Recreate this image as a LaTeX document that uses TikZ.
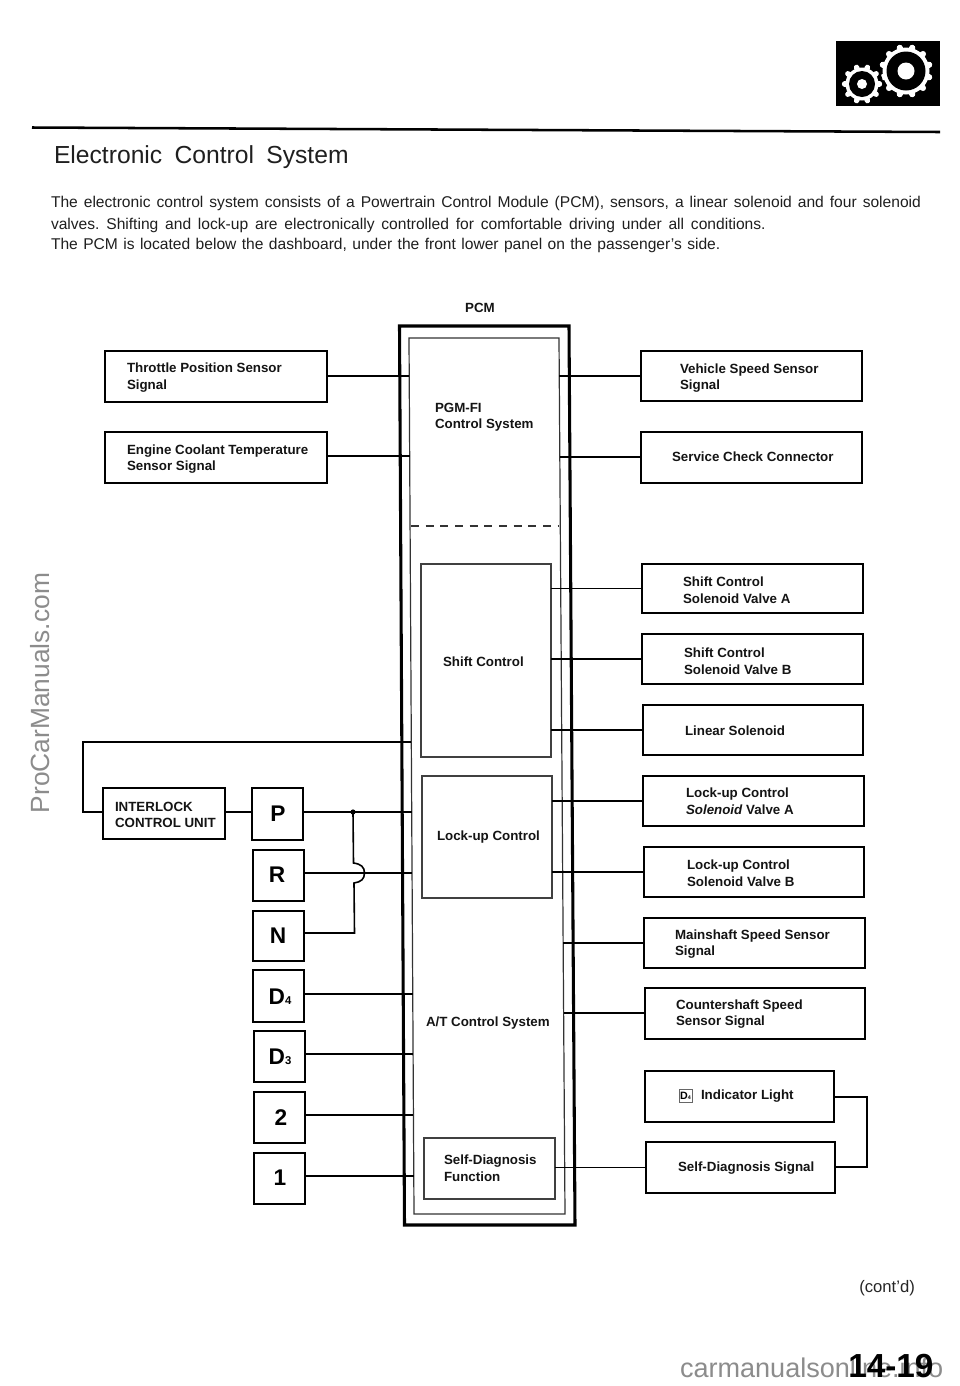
\documentclass[tikz,border=0pt]{standalone}
\usepackage{fontspec}
\setmainfont{Liberation Sans}
\newcommand{\pxbox}[6][pbox]{%
  \pgfmathsetmacro{\wpx}{(#5-#3)*0.75}\pgfmathsetmacro{\hpx}{(#6-#4)*0.75}%
  \node[#1,minimum width=\wpx pt,minimum height=\hpx pt,anchor=north west] (#2) at (#3,#4) {};}
\newcommand{\WL}[2]{\coordinate (#1) at ({409+(#2-338)*0.0057},#2);}
\newcommand{\WR}[2]{\coordinate (#1) at ({559+(#2-338)*0.0068},#2);}
\newcommand{\fitline}[2]{\makebox[#1][s]{\frenchspacing #2}}
\tikzset{
  pbox/.style={draw=black,line width=1.5pt,inner sep=0pt,outer sep=0pt,fill=white},
  subbox/.style={draw=black!75,line width=0.9pt,inner sep=0pt,outer sep=0pt},
  wire/.style={draw=black,line width=1.2pt},
  lbl/.style={inner sep=0pt,outer sep=0pt,anchor=west,align=left,font=\bfseries\fontsize{10}{12.4}\selectfont,text=black!92},
  poslbl/.style={inner sep=0pt,outer sep=0pt,font=\bfseries\fontsize{17}{18}\selectfont,text=black},
  bodytxt/.style={inner sep=0pt,outer sep=0pt,anchor=base west,font=\fontsize{11.7}{14}\selectfont,text=black!88},
  water/.style={inner sep=0pt,outer sep=0pt,text=black!45},
}
\begin{document}
\begin{tikzpicture}[x=0.75pt,y=-0.75pt]
\useasboundingbox (0,0) rectangle (960,1386);
\fill[white] (0,0) rectangle (960,1386);

% gear icon
\fill[black] (836,41) rectangle (940,106);
\begin{scope}[shift={(906,71)}]
  \foreach \a in {15,45,...,345} \draw[white,line width=4.6pt,line cap=round] (\a:20) -- (\a:24);
  \fill[white] (0,0) circle (23.5);
  \fill[black] (0,0) circle (19.5);
  \fill[white] (0,0) circle (8.5);
\end{scope}
\begin{scope}[shift={(862,84)}]
  \fill[black] (0,0) circle (21);
  \foreach \a in {0,36,...,324} \draw[white,line width=4pt,line cap=round] (\a:14) -- (\a:17.5);
  \fill[white] (0,0) circle (16.5);
  \fill[black] (0,0) circle (13);
  \fill[white] (0,0) circle (5);
\end{scope}
\draw[black,line width=1.9pt] (32,127.5) -- (940,132);

% title and text
\node[bodytxt,font=\fontsize{18.5}{22}\selectfont] (title) at (54,163) {\fitline{221pt}{Electronic Control System}};
\node[bodytxt] (p1) at (51,207) {\fitline{652.5pt}{The electronic control system consists of a Powertrain Control Module (PCM), sensors, a linear solenoid and four solenoid}};
\node[bodytxt] (p2) at (51,229) {\fitline{536pt}{valves. Shifting and lock-up are electronically controlled for comfortable driving under all conditions.}};
\node[bodytxt] (p3) at (51,249) {\fitline{502pt}{The PCM is located below the dashboard, under the front lower panel on the passenger's side.}};

% PCM
\node[lbl,anchor=center] (pcmlabel) at (480,308) {PCM};
\draw[black,line width=2.3pt] (399.5,326) -- (569,326) -- (575,1225) -- (404.5,1225) -- cycle;
\draw[black!80,line width=0.9pt] (409,338) -- (559,338) -- (565,1214) -- (414,1214) -- cycle;
\draw[black!80,line width=1pt,dash pattern=on 6pt off 5pt] (411,526) -- (558,526);
\pxbox[subbox]{shift}{421}{564}{551}{757}
\pxbox[subbox]{lockup}{422}{776}{552}{898}
\pxbox[subbox]{selfd}{424}{1138}{555}{1199}

% left boxes
\pxbox{tps}{105}{351}{327}{402}
\pxbox{ect}{105}{432}{327}{483}
\pxbox{ilock}{103}{788}{225}{839}
\pxbox{P}{252}{788}{303}{840}
\pxbox{R}{253}{850}{304}{901}
\pxbox{N}{253}{911}{304}{961}
\pxbox{Dfour}{253}{970}{304}{1022}
\pxbox{Dthree}{254}{1031}{305}{1082}
\pxbox{Two}{254}{1092}{305}{1143}
\pxbox{One}{254}{1153}{305}{1204}

% right boxes
\pxbox{vss}{641}{351}{862}{401}
\pxbox{scc}{641}{432}{862}{483}
\pxbox{sva}{642}{564}{863}{613}
\pxbox{svb}{642}{634}{863}{684}
\pxbox{lin}{643}{705}{863}{755}
\pxbox{lca}{643}{776}{864}{826}
\pxbox{lcb}{644}{847}{864}{897}
\pxbox{mss}{644}{918}{865}{968}
\pxbox{css}{645}{988}{865}{1039}
\pxbox{ind}{645}{1071}{834}{1122}
\pxbox{sds}{646}{1142}{835}{1193}

% wall coordinates
\WL{l376}{376}\WL{l456}{456}\WL{l742}{742}\WL{l812}{812}\WL{l873}{873}
\WL{l994}{994}\WL{l1054}{1054}\WL{l1115}{1115}\WL{l1176}{1176}
\WR{r376}{376}\WR{r457}{457}\WR{r943}{943}\WR{r1013}{1013}
\coordinate (loopA) at (83,742);
\coordinate (loopB) at (83,812);
\coordinate (dot) at (353,812);
\coordinate (bumpT) at (353.5,863);
\coordinate (bumpB) at (354,883);
\coordinate (nc) at (354.5,933);
\coordinate (rloopA) at (867,1097);
\coordinate (rloopB) at (867,1167);

% left connectors
\draw[wire] (tps.east |- l376) -- (l376);
\draw[wire] (ect.east |- l456) -- (l456);
\draw[wire] (l742) -- (loopA) -- (loopB) -- (ilock.west |- loopB);
\draw[wire] (ilock.east |- l812) -- (P.west |- l812);
\draw[wire] (P.east |- l812) -- (l812);
\draw[wire] (R.east |- l873) -- (l873);
\draw[wire] (dot) -- (bumpT) .. controls (361,864) and (364.5,867) .. (364.5,873) .. controls (364.5,879) and (361,882) .. (bumpB) -- (nc) -- (N.east |- nc);
\fill[black] (dot) circle (2.6);
\draw[wire] (Dfour.east |- l994) -- (l994);
\draw[wire] (Dthree.east |- l1054) -- (l1054);
\draw[wire] (Two.east |- l1115) -- (l1115);
\draw[wire] (One.east |- l1176) -- (l1176);

% right connectors
\draw[wire] (vss.west |- r376) -- (r376);
\draw[wire] (scc.west |- r457) -- (r457);
\draw[wire] (sva.west) -- (sva.west -| shift.east);
\draw[wire] (svb.west) -- (svb.west -| shift.east);
\draw[wire] (lin.west) -- (lin.west -| shift.east);
\draw[wire] (lca.west) -- (lca.west -| lockup.east);
\draw[wire] (lcb.west) -- (lcb.west -| lockup.east);
\draw[wire] (mss.west |- r943) -- (r943);
\draw[wire] (css.west |- r1013) -- (r1013);
\draw[wire] (sds.west) -- (selfd.east |- sds.west);
\draw[wire] (ind.east |- rloopA) -- (rloopA) -- (rloopB) -- (sds.east |- rloopB);

% left labels
\node[lbl] (tpst) at (127,377.5) {Throttle Position Sensor\\Signal};
\node[lbl] (ectt) at (127,459) {Engine Coolant Temperature\\Sensor Signal};
\node[lbl] (ilockt) at (115,815) {INTERLOCK\\CONTROL UNIT};
\node[poslbl] (Pt) at (278,814) {P};
\node[poslbl] (Rt) at (277,875) {R};
\node[poslbl] (Nt) at (278,936) {N};
\node[poslbl] (Dfourt) at (280,997) {D\raisebox{0pt}{\fontsize{8.5}{9}\selectfont 4}};
\node[poslbl] (Dthreet) at (280,1057) {D\raisebox{0pt}{\fontsize{8.5}{9}\selectfont 3}};
\node[poslbl] (Twot) at (281,1118) {2};
\node[poslbl] (Onet) at (280,1178) {1};

% PCM labels
\node[lbl] (pgmt) at (435,417) {PGM-FI\\Control System};
\node[lbl] (shiftt) at (443,662) {Shift Control};
\node[lbl] (lockt) at (437,837) {Lock-up Control};
\node[lbl] (att) at (426,1023) {A/T Control System};
\node[lbl] (selft) at (444,1168) {Self-Diagnosis\\Function};

% right labels
\node[lbl] (vsst) at (680,378) {Vehicle Speed Sensor\\Signal};
\node[lbl] (scct) at (672,457) {Service Check Connector};
\node[lbl] (svat) at (683,590) {Shift Control\\Solenoid Valve A};
\node[lbl] (svbt) at (684,661) {Shift Control\\Solenoid Valve B};
\node[lbl] (lint) at (685,731) {Linear Solenoid};
\node[lbl] (lcat) at (686,801) {Lock-up Control\\\textit{Solenoid} Valve A};
\node[lbl] (lcbt) at (687,873) {Lock-up Control\\Solenoid Valve B};
\node[lbl] (msst) at (675,944) {Mainshaft Speed Sensor\\Signal};
\node[lbl] (csst) at (676,1014) {Countershaft Speed\\Sensor Signal};
\node[draw=black!60,line width=0.5pt,inner sep=0pt,minimum width=9.5pt,minimum height=9.5pt,font=\bfseries\fontsize{8}{9}\selectfont] (dsym) at (685.5,1095.5) {D\raisebox{0pt}{\fontsize{4}{5}\selectfont 4}};
\node[lbl] (indt) at (701,1096) {Indicator Light};
\node[lbl] (sdst) at (678,1168) {Self-Diagnosis Signal};

% footer
\node[inner sep=0pt,anchor=base west,font=\fontsize{12.5}{14}\selectfont,text=black!85] (contd) at (859,1292) {(cont'd)};
\node[water,anchor=base west,font=\fontsize{20.3}{24}\selectfont] (site2) at (680,1377) {carmanualsonline.info};
\node[inner sep=0pt,anchor=base west,font=\bfseries\fontsize{25}{28}\selectfont] (pageno) at (848,1377) {14-19};
\node[water,anchor=base west,rotate=90,font=\fontsize{19.75}{24}\selectfont] (site1) at (50,813) {ProCarManuals.com};
\end{tikzpicture}
\end{document}
